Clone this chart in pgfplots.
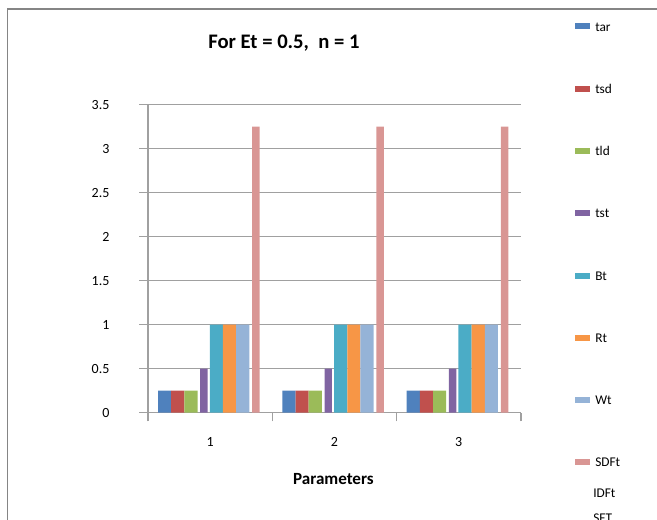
\documentclass[border=0pt]{standalone}
\usepackage{fontspec}
\setmainfont{Carlito}
\usepackage{pgfplots}
\pgfplotsset{compat=1.18}

\definecolor{cTar}{HTML}{4F81BD}
\definecolor{cTsd}{HTML}{C0504D}
\definecolor{cTld}{HTML}{9BBB59}
\definecolor{cTst}{HTML}{8064A2}
\definecolor{cBt}{HTML}{4BACC6}
\definecolor{cRt}{HTML}{F79646}
\definecolor{cWt}{HTML}{95B3D7}
\definecolor{cSDFt}{HTML}{D99694}
\definecolor{gridGray}{HTML}{A0A0A0}
\definecolor{frameGray}{HTML}{858585}

\begin{document}
\begin{tikzpicture}[x=0.75pt,y=0.75pt]
\useasboundingbox (0,0) rectangle (657,520);
\begin{scope}
\clip (0,0) rectangle (657,520);

\begin{axis}[
  at={(119,122)}, anchor=south west,
  scale only axis, width=279.75pt, height=231pt,
  xmin=0.5, xmax=3.5, ymin=0, ymax=3.5,
  axis x line*=bottom, axis y line*=left,
  axis line style={-, draw=gridGray, line width=1pt},
  xtick={0.5,1.5,2.5,3.5},
  xticklabels={1,2,3},
  x tick label as interval,
  ytick={0,0.5,1,1.5,2,2.5,3,3.5},
  tick align=outside,
  major tick length=6.5pt,
  tick style={draw=gridGray, line width=1pt},
  ymajorgrids,
  grid style={draw=gridGray, line width=1pt},
  /pgf/number format/assume math mode=true,
  every tick label/.append style={font=\fontsize{10.5}{12}\selectfont, inner sep=0pt},
  yticklabel style={anchor=east, xshift=-22.2pt},
  xticklabel style={anchor=north, yshift=-11.6pt},
  title={For Et = 0.5,\ \ n = 1},
  title style={font=\bfseries\fontsize{15.5}{18}\selectfont, at={(0.3646,1.155)}, anchor=base},
  xlabel={Parameters},
  xlabel style={font=\bfseries\fontsize{12.8}{15}\selectfont, at={(0.4973,-0.2328)}, anchor=base},
  legend cell align=left,
  legend image code/.code={\fill[#1] (0pt,-2.3pt) rectangle (10.8pt,2.2pt);},
  legend style={at={(1.1456,1.2692)}, anchor=north west, draw=none, fill=none,
    inner sep=0pt, outer sep=0pt, row sep=39.7pt,
    font=\fontsize{10}{12}\selectfont,
    nodes={inner sep=0pt, text height=7pt, text depth=0pt},
    /tikz/every odd column/.append style={column sep=4.2pt}},
]
\addplot[ybar, fill=cTar, draw=none, bar width=0.106, bar shift=-0.366]
  coordinates {(1,0.25) (2,0.25) (3,0.25)};
\addlegendentry{tar}
\addplot[ybar, fill=cTsd, draw=none, bar width=0.106, bar shift=-0.260]
  coordinates {(1,0.25) (2,0.25) (3,0.25)};
\addlegendentry{tsd}
\addplot[ybar, fill=cTld, draw=none, bar width=0.106, bar shift=-0.154]
  coordinates {(1,0.25) (2,0.25) (3,0.25)};
\addlegendentry{tld}
\addplot[ybar, fill=cTst, draw=none, bar width=0.060, bar shift=-0.050]
  coordinates {(1,0.5) (2,0.5) (3,0.5)};
\addlegendentry{tst}
\addplot[ybar, fill=cBt, draw=none, bar width=0.106, bar shift=0.050]
  coordinates {(1,1) (2,1) (3,1)};
\addlegendentry{Bt}
\addplot[ybar, fill=cRt, draw=none, bar width=0.106, bar shift=0.156]
  coordinates {(1,1) (2,1) (3,1)};
\addlegendentry{Rt}
\addplot[ybar, fill=cWt, draw=none, bar width=0.106, bar shift=0.262]
  coordinates {(1,1) (2,1) (3,1)};
\addlegendentry{Wt}
\addplot[ybar, fill=cSDFt, draw=none, bar width=0.060, bar shift=0.368]
  coordinates {(1,3.25) (2,3.25) (3,3.25)};
\addlegendentry{SDFt}
\end{axis}

% series without drawn bars, listed at the foot of the legend
\node[anchor=base west, inner sep=0pt, font=\fontsize{10}{12}\selectfont] at (593,22) {IDFt};
\node[anchor=base west, inner sep=0pt, font=\fontsize{10}{12}\selectfont] at (593,-3) {SFT};

% chart area border (runs off the right and bottom edges)
\draw[frameGray, line width=1.3pt] (7.5,-30) -- (7.5,511) -- (700,511);
\end{scope}
\end{tikzpicture}
\end{document}
